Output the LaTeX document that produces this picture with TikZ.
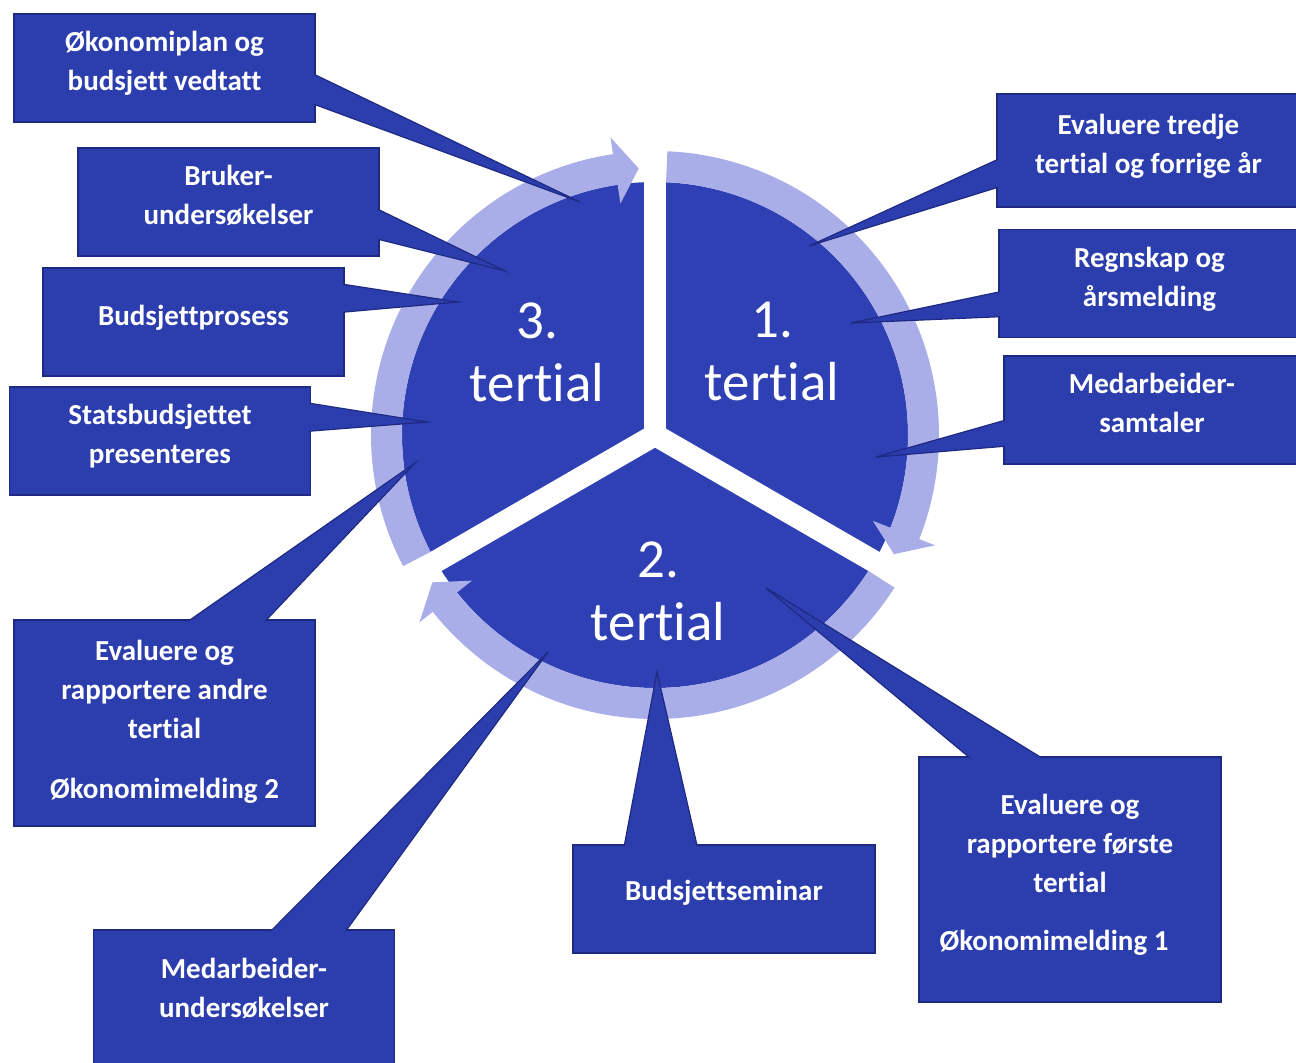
\documentclass[tikz,border=0pt]{standalone}
\usepackage{fontspec}
\setmainfont{Carlito}[RawFeature={-liga;-clig;-calt;-dlig}]
\usepackage{tikz}
\usetikzlibrary{calc}

\definecolor{boxblue}{RGB}{44,62,174}
\definecolor{boxline}{RGB}{30,42,130}
\definecolor{wheelblue}{RGB}{46,64,180}
\definecolor{ringlilac}{RGB}{170,174,232}

\begin{document}
\begin{tikzpicture}[x=0.5pt, y=0.5pt,
  box/.style={rectangle, draw=boxline, line width=0.8pt, fill=boxblue, text=white, align=center, inner sep=0pt, minimum width=150.5pt, minimum height=54pt, text depth=7pt, font=\fontsize{14.5}{19.5}\selectfont\bfseries},
  pointer/.style={fill=boxblue, draw=boxline, line width=0.6pt},
  gap/.style={white, line width=11pt},
  ring/.style={fill=ringlilac},
  tertlabel/.style={text=white, align=center, font=\fontsize{27.5}{31.5}\selectfont}
]
  \fill[white] (0,0) rectangle (1296,1062);
  \useasboundingbox (0,0) rectangle (1296,1062);

  % wheel with the three tertials
  \begin{scope}[shift={(655,627)}]
    \fill[wheelblue] (0,0) circle[radius=253];
    \draw[gap] (0,0) -- (90:262);
    \draw[gap] (0,0) -- (210:262);
    \draw[gap] (0,0) -- (330:262);
    \fill[ring] (87.5:284) arc[start angle=87.5, end angle=-21.5, radius=284] -- (-21.5:301) -- (-26.5:267) -- (-21.5:234) -- (-21.5:253) arc[start angle=-21.5, end angle=87.5, radius=253] -- cycle;
    \fill[ring] (-32.5:284) arc[start angle=-32.5, end angle=-141.5, radius=284] -- (-141.5:301) -- (-146.5:267) -- (-141.5:234) -- (-141.5:253) arc[start angle=-141.5, end angle=-32.5, radius=253] -- cycle;
    \fill[ring] (207.5:284) arc[start angle=207.5, end angle=98.5, radius=284] -- (98.5:301) -- (93.5:267) -- (98.5:234) -- (98.5:253) arc[start angle=98.5, end angle=207.5, radius=253] -- cycle;
  \end{scope}

  \node[tertlabel] (tert3) at (537,710) {3.\\tertial};
  \node[tertlabel] (tert1) at (772,710) {1.\\tertial};
  \node[tertlabel] (tert2) at (658,471) {2.\\tertial};

  % boxes
  \node[box] (okon) at (164.5,994) {Økonomiplan og\\budsjett vedtatt};
  \node[box] (bruker) at (228.5,860) {Bruker-\\undersøkelser};
  \node[box] (budsj) at (193.5,740) {Budsjettprosess};
  \node[box] (stats) at (160,621) {Statsbudsjettet\\presenteres};
  \node[box, minimum height=103pt, text depth=4pt] (evand) at (164.5,339) {Evaluere og\\rapportere andre\\tertial\\[10.5pt]Økonomimelding 2};
  \node[box, minimum height=68pt, text depth=10pt] (medund) at (244,64) {Medarbeider-\\undersøkelser};
  \node[box, minimum width=151pt, text depth=9pt] (bseminar) at (724,163) {Budsjettseminar};
  \node[box, minimum width=151pt, minimum height=122.5pt] (evforst) at (1070,182.5) {Evaluere og\\rapportere første\\tertial\\[9.5pt]\hspace*{-16pt}Økonomimelding 1};
  \node[box, minimum width=151.5pt, minimum height=56.5pt] (evtredje) at (1148.5,911.5) {Evaluere tredje\\tertial og forrige år};
  \node[box] (regnsk) at (1149.5,778.5) {Regnskap og\\årsmelding};
  \node[box, minimum width=148pt] (medsamt) at (1152,652) {Medarbeider-\\samtaler};

  % pointers into the wheel
  \coordinate (okon-tip) at (580,860);
  \coordinate (bruker-tip) at (505,791);
  \coordinate (budsj-tip) at (458,760);
  \coordinate (stats-tip) at (427,640);
  \coordinate (evand-tip) at (415,599);
  \coordinate (medund-tip) at (548,410);
  \coordinate (bseminar-tip) at (657,390);
  \coordinate (evforst-tip) at (766,474);
  \coordinate (evtredje-tip) at (809,816);
  \coordinate (regnsk-tip) at (851,739);
  \coordinate (medsamt-tip) at (876,605);

  \filldraw[pointer] ($(okon.north east)+(-2,-61)$) -- (okon-tip) -- ($(okon.north east)+(-2,-91)$);
  \filldraw[pointer] ($(bruker.north east)+(-2,-62)$) -- (bruker-tip) -- ($(bruker.north east)+(-2,-92)$);
  \filldraw[pointer] ($(budsj.north east)+(-2,-17)$) -- (budsj-tip) -- ($(budsj.north east)+(-2,-45)$);
  \filldraw[pointer] ($(stats.north east)+(-2,-17)$) -- (stats-tip) -- ($(stats.north east)+(-2,-45)$);
  \filldraw[pointer] ($(evand.north west)+(175,-2)$) -- (evand-tip) -- ($(evand.north west)+(252,-2)$);
  \filldraw[pointer] ($(medund.north west)+(178,-2)$) -- (medund-tip) -- ($(medund.north west)+(253,-2)$);
  \filldraw[pointer] ($(bseminar.north west)+(52,-2)$) -- (bseminar-tip) -- ($(bseminar.north west)+(125,-2)$);
  \filldraw[pointer] ($(evforst.north west)+(52,-2)$) -- (evforst-tip) -- ($(evforst.north west)+(124,-2)$);
  \filldraw[pointer] ($(evtredje.north west)+(2,-66)$) -- (evtredje-tip) -- ($(evtredje.north west)+(2,-94)$);
  \filldraw[pointer] ($(regnsk.north west)+(2,-63)$) -- (regnsk-tip) -- ($(regnsk.north west)+(2,-88)$);
  \filldraw[pointer] ($(medsamt.north west)+(2,-65)$) -- (medsamt-tip) -- ($(medsamt.north west)+(2,-91)$);
\end{tikzpicture}
\end{document}
